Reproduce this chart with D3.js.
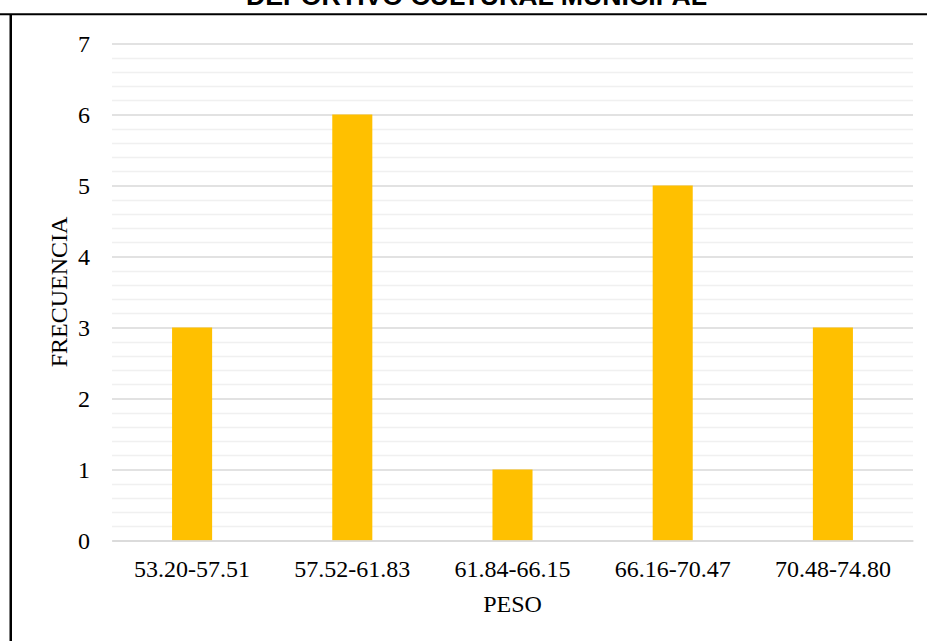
<!DOCTYPE html>
<html>
<head>
<meta charset="utf-8">
<script src="https://cdn.jsdelivr.net/npm/d3@7"></script>
<style>
  html, body { margin: 0; padding: 0; background: #fff; }
  svg { display: block; }
</style>
</head>
<body>
<svg id="chart" width="927" height="641"></svg>
<script>
// Weight classes and how many people fall in each
const categories = ["53.20-57.51", "57.52-61.83", "61.84-66.15", "66.16-70.47", "70.48-74.80"];
const frequencies = [3, 6, 1, 5, 3];
const yTicks = [0, 1, 2, 3, 4, 5, 6, 7];
const titleText = "DEPORTIVO CULTURAL MUNICIPAL";
const xTitle = "PESO";
const yTitle = "FRECUENCIA";

const svg = d3.select("#chart");
const W = 927, H = 641;
const plot = { left: 112, right: 913, top: 43.5, bottom: 540.5 };
const serif = "Liberation Serif, Times New Roman, serif";
const labelSize = 24;

// Frame lines: top rule and left edge
svg.append("line")
  .attr("x1", 0).attr("x2", W).attr("y1", 14.3).attr("y2", 14.3)
  .attr("stroke", "#000").attr("stroke-width", 2);
svg.append("line")
  .attr("x1", 10.75).attr("x2", 10.75).attr("y1", 14.3).attr("y2", H)
  .attr("stroke", "#000").attr("stroke-width", 2.5);

// Title (its upper part runs above the frame)
svg.append("text")
  .attr("x", 476.5).attr("y", 5)
  .attr("text-anchor", "middle")
  .attr("font-family", "Liberation Sans, Arial, sans-serif")
  .attr("font-weight", "bold")
  .attr("font-size", 26.7)
  .text(titleText);

const x = d3.scaleBand().domain(categories).range([plot.left, plot.right]).paddingInner(0.75).paddingOuter(0.375);
const y = d3.scaleLinear().domain([0, 7]).range([plot.bottom, plot.top]);

// Minor gridlines every 0.2
const minor = d3.range(0, 7.0001, 0.2).filter(v => Math.abs(v - Math.round(v)) > 1e-6);
svg.append("g").selectAll("line").data(minor).join("line")
  .attr("x1", plot.left).attr("x2", plot.right)
  .attr("y1", d => Math.round(y(d)) + 0.5).attr("y2", d => Math.round(y(d)) + 0.5)
  .attr("stroke", "#f0f0f0").attr("stroke-width", 1.3);

// Major gridlines via the axis
const yAxis = d3.axisLeft(y).tickValues(yTicks).tickSize(-(plot.right - plot.left)).tickPadding(22).tickFormat(d3.format("d"));
const gy = svg.append("g").attr("transform", `translate(${plot.left},0)`).call(yAxis);
gy.select(".domain").remove();
gy.selectAll(".tick line").attr("stroke", "#d9d9d9").attr("stroke-width", 1.5);
gy.selectAll(".tick text")
  .attr("font-family", serif)
  .attr("font-size", labelSize).attr("fill", "#000");

// Bars
svg.append("g").selectAll("rect").data(frequencies).join("rect")
  .attr("x", (d, i) => x(categories[i]))
  .attr("width", x.bandwidth())
  .attr("y", d => y(d))
  .attr("height", d => y(0) - y(d))
  .attr("fill", "#FFC000");

// Category axis
const xAxis = d3.axisBottom(x).tickSize(0).tickPadding(19.5);
const gx = svg.append("g").attr("transform", `translate(0,${plot.bottom})`).call(xAxis);
gx.select(".domain").attr("stroke", "#d9d9d9").attr("stroke-width", 1.5);
gx.selectAll(".tick text")
  .attr("font-family", serif)
  .attr("font-size", labelSize).attr("fill", "#000");

// Axis titles
svg.append("text")
  .attr("x", 512.5).attr("y", 612)
  .attr("text-anchor", "middle")
  .attr("font-family", serif)
  .attr("font-size", labelSize)
  .text(xTitle);
svg.append("text")
  .attr("transform", `translate(67,292) rotate(-90)`)
  .attr("text-anchor", "middle")
  .attr("font-family", serif)
  .attr("font-size", labelSize)
  .text(yTitle);
</script>
</body>
</html>
